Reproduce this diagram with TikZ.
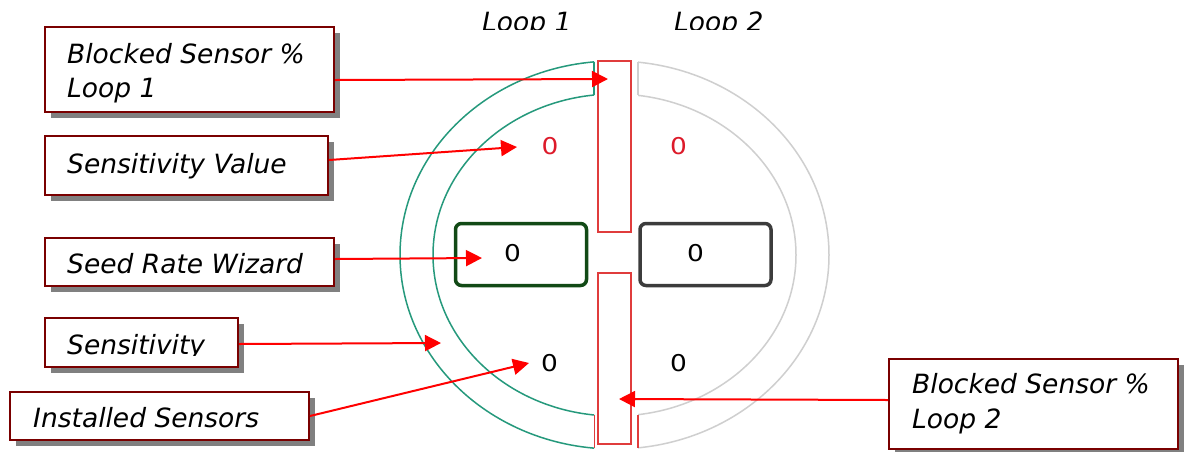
\documentclass[tikz,border=0pt]{standalone}
\usepackage{fontspec}
\setmainfont{DejaVu Sans}
\usetikzlibrary{arrows.meta,shadows}
\definecolor{boxred}{HTML}{7A0000}
\definecolor{arrred}{HTML}{FF0000}
\definecolor{barred}{HTML}{E03C3C}
\definecolor{ringgreen}{HTML}{25997C}
\definecolor{ringgray}{HTML}{CFCFCF}
\definecolor{zerored}{HTML}{DD1A2A}
\definecolor{btngreen}{HTML}{124A16}
\definecolor{btngray}{HTML}{3C3C3C}
\newcommand{\zeroglyph}{\scalebox{1.2}[1.05]{0}}
\begin{document}
\begin{tikzpicture}[x=1pt,y=-1pt,
  calloutbox/.style={draw=boxred, line width=2pt, fill=white, inner sep=0pt, anchor=north west,
    drop shadow={shadow xshift=6pt, shadow yshift=-6pt, fill=black!50, opacity=1}},
  lbl/.style={inner sep=0pt, anchor=base west, font=\fontsize{26.5}{32}\selectfont\itshape},
  pointer/.style={draw=arrred, line width=2pt, -{Triangle[length=16pt,width=16pt]}},
  zero/.style={inner sep=0pt, font=\fontsize{22}{22}\selectfont},
  ringg/.style={draw=ringgreen, line width=1.5pt},
  ringy/.style={draw=ringgray, line width=1.5pt},
  barline/.style={draw=barred, line width=1.5pt},
  btn/.style={rounded corners=6pt, line width=3.5pt, fill=white, inner sep=0pt, minimum width=131pt, minimum height=62pt}
]
\useasboundingbox[fill=white] (0,0) rectangle (1186,451);

% ring, left half (green)
\begin{scope}
  \clip (380,40) rectangle (594,451);
  \draw[ringg] (614.5,255) ellipse [x radius=214.5pt, y radius=194pt];
  \draw[ringg] (614.5,255) ellipse [x radius=181.5pt, y radius=161pt];
\end{scope}
% ring, right half (gray)
\begin{scope}
  \clip (638,40) rectangle (860,451);
  \draw[ringy] (614.5,255) ellipse [x radius=214.5pt, y radius=194pt];
  \draw[ringy] (614.5,255) ellipse [x radius=181.5pt, y radius=161pt];
\end{scope}
\draw[ringg] (594,61.9) -- (594,95.0);
\draw[ringy] (638,62.2) -- (638,95.35);
\draw[barline] (594.5,415.0) -- (594.5,448.1);
\draw[barline] (638,414.65) -- (638,447.8);

% red bars
\draw[barline] (598,61) rectangle (631,232);
\draw[barline] (598,273) rectangle (631,444);

% buttons
\node[btn, draw=btngreen] (w1) at (521,254.5) {};
\node[btn, draw=btngray] (w2) at (705.5,254.5) {};
\node[zero] (w1v) at (512.5,253.5) {\zeroglyph};
\node[zero] (w2v) at (695.5,253) {\zeroglyph};

% values
\node[zero, text=zerored] (s1) at (550,146.5) {\zeroglyph};
\node[zero, text=zerored] (s2) at (678.5,146.5) {\zeroglyph};
\node[zero] (i1) at (549.5,363) {\zeroglyph};
\node[zero] (i2) at (678.5,363) {\zeroglyph};

% loop headings (clipped at bottom)
\begin{scope}
  \clip (470,0) rectangle (780,29.5);
  \node[lbl] (loop1) at (482,31) {Loop 1};
  \node[lbl] (loop2) at (674,31) {Loop 2};
\end{scope}

% callout boxes
\node[calloutbox, minimum width=289pt, minimum height=85pt] (b1) at (44,26) {};
\node[calloutbox, minimum width=283pt, minimum height=59pt] (b2) at (44,135) {};
\node[calloutbox, minimum width=289pt, minimum height=48pt] (b3) at (44,237) {};
\node[calloutbox, minimum width=193pt, minimum height=49pt] (b4) at (44,317) {};
\node[calloutbox, minimum width=299pt, minimum height=48pt] (b5) at (9,391) {};
\node[calloutbox, minimum width=289pt, minimum height=90pt] (b6) at (888,358) {};

\node[lbl] (t1a) at (67,63) {Blocked Sensor \%};
\node[lbl] (t1b) at (67,97) {Loop 1};
\node[lbl] (t2) at (67,173) {Sensitivity Value};
\node[lbl] (t3) at (67,273) {Seed Rate Wizard};
\begin{scope}
  \clip (50,320) rectangle (235,355.5);
  \node[lbl] (t4) at (67,354.5) {Sensitivity};
\end{scope}
\node[lbl] (t5) at (33,427) {Installed Sensors};
\node[lbl] (t6a) at (912,393) {Blocked Sensor \%};
\node[lbl] (t6b) at (912,428) {Loop 2};

% arrow targets
\coordinate (p1) at (608,79);
\coordinate (p2) at (517,147);
\coordinate (p3) at (482,258);
\coordinate (p4) at (441,343);
\coordinate (p5) at (529,363);
\coordinate (p6) at (619,399);

\draw[pointer] ([yshift=-10.5pt]b1.east) -- (p1);
\draw[pointer] ([yshift=5.5pt]b2.east) -- (p2);
\draw[pointer] ([yshift=3pt]b3.east) -- (p3);
\draw[pointer] ([yshift=-1.5pt]b4.east) -- (p4);
\draw[pointer] (b5.east) -- (p5);
\draw[pointer] ([yshift=4pt]b6.west) -- (p6);
\end{tikzpicture}
\end{document}
